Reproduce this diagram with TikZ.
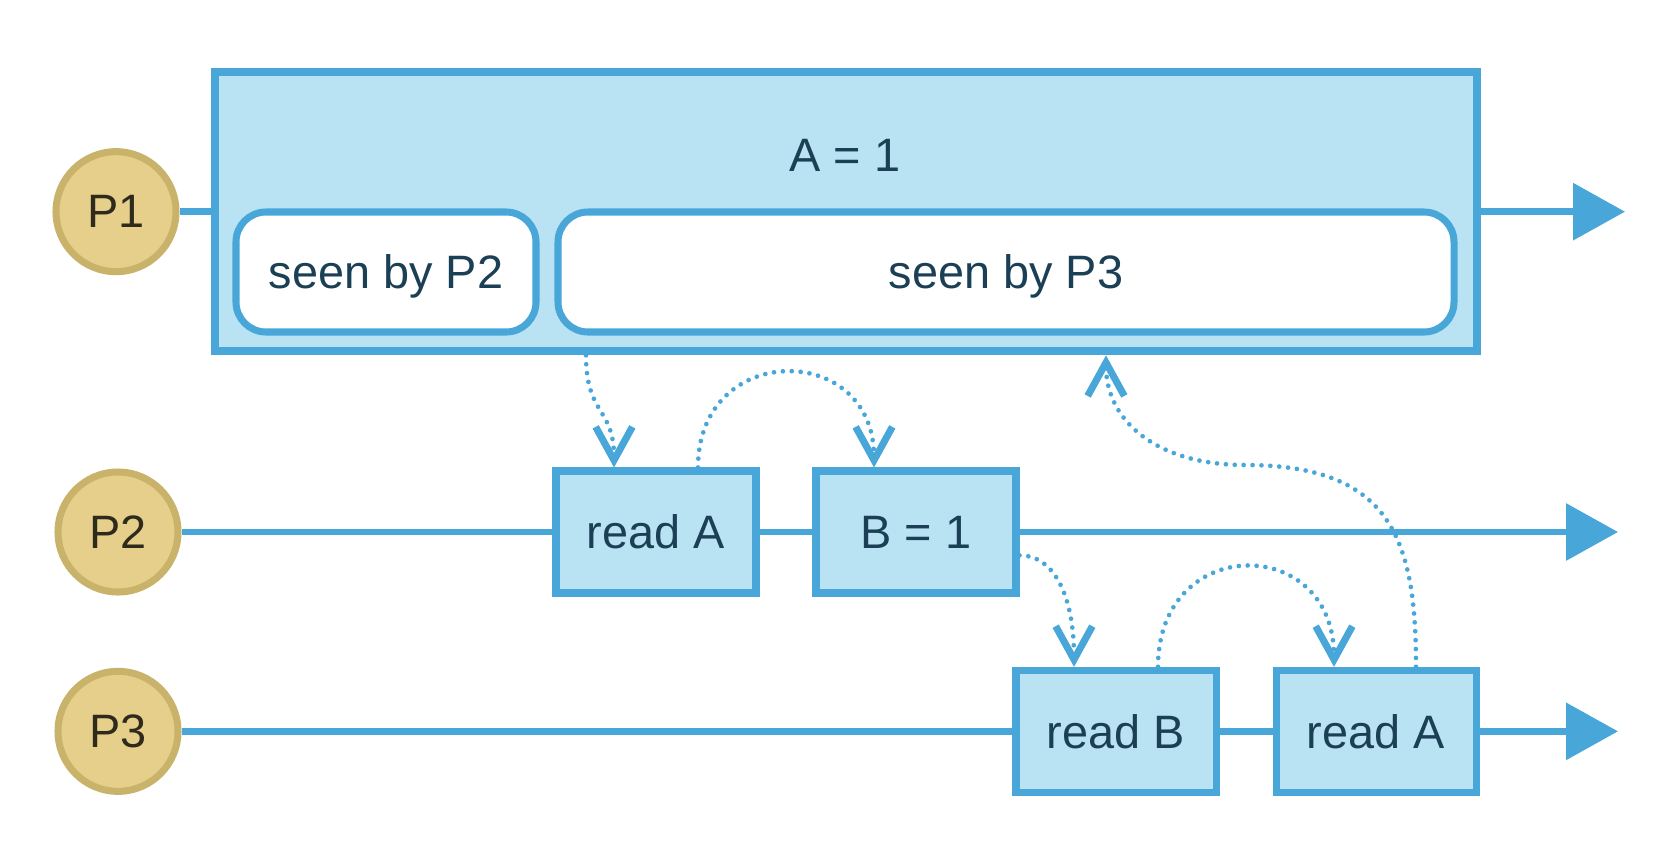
\documentclass[tikz,border=0pt]{standalone}
\usepackage{fontspec}
\setmainfont{Liberation Sans}
\usepackage{xcolor}
\usetikzlibrary{arrows.meta}

\definecolor{lineblue}{HTML}{48A6D8}
\definecolor{boxfill}{HTML}{B9E3F3}
\definecolor{procfill}{HTML}{E6CF8B}
\definecolor{procedge}{HTML}{C9B36A}
\definecolor{boxtext}{HTML}{1B3F55}
\definecolor{proctext}{HTML}{2E2A1C}

\tikzset{
  bigtext/.style={font=\fontsize{20}{24}\selectfont, text depth=0pt},
  proc/.style={circle, draw=procedge, fill=procfill, line width=3pt,
    minimum size=1.8cm, inner sep=0pt, text=proctext, bigtext},
  opbox/.style={rectangle, draw=lineblue, fill=boxfill, line width=3pt,
    minimum width=3cm, minimum height=1.83cm, inner sep=0pt, text=boxtext, bigtext},
  seenbox/.style={rectangle, rounded corners=0.45cm, draw=lineblue, fill=white,
    line width=3pt, minimum height=1.8cm, inner sep=0pt, text=boxtext, bigtext},
  timeline/.style={draw=lineblue, line width=2.8pt},
  timearrow/.style={timeline, -{Triangle[length=0.78cm,width=0.84cm]}},
  order/.style={draw=lineblue, line width=2pt, dash pattern=on 0pt off 3.8pt,
    line cap=round, -{Straight Barb[length=0.5cm,width=0.55cm,line width=3pt]}}
}

\begin{document}
\begin{tikzpicture}
    \useasboundingbox (0,0) rectangle (25.2,-12.9);

    % Processes
    \node[proc] (P1) at (1.74,-3.175) {P1};
    \node[proc] (P2) at (1.77,-7.98) {P2};
    \node[proc] (P3) at (1.77,-10.97) {P3};

    % Write of A on P1
    \node[rectangle, draw=lineblue, fill=boxfill, line width=3.4pt,
      minimum width=18.93cm, minimum height=4.19cm] (big) at (12.69,-3.175) {};
    \node[text=boxtext, bigtext] (aeq) at (12.675,-2.325) {A = 1};
    \node[seenbox, minimum width=4.5cm] (seenP2) at (5.79,-4.08) {seen by P2};
    \node[seenbox, minimum width=13.44cm] (seenP3) at (15.09,-4.08) {seen by P3};

    % Operations on P2 and P3
    \node[opbox] (readA2) at (9.84,-7.98) {read A};
    \node[opbox] (B1) at (13.74,-7.98) {B = 1};
    \node[opbox] (readB) at (16.74,-10.97) {read B};
    \node[opbox] (readA3) at (20.64,-10.97) {read A};

    % Time lines
    \coordinate (end1) at (24.375,-3.175);
    \coordinate (end2) at (24.27,-7.98);
    \coordinate (end3) at (24.27,-10.97);
    \draw[timeline] (P1) -- (big);
    \draw[timearrow] (big.east) -- (end1);
    \draw[timeline] (P2) -- (readA2);
    \draw[timeline] (readA2) -- (B1);
    \draw[timearrow] (B1.east) -- (end2);
    \draw[timeline] (P3) -- (readB);
    \draw[timeline] (readB) -- (readA3);
    \draw[timearrow] (readA3.east) -- (end3);

    % Ordering
    \draw[order] ([xshift=-3.9cm]big.south) .. controls +(0,-0.9) and +(0,0.9) .. ([xshift=-0.63cm]readA2.north);
    \draw[order] ([xshift=0.63cm]readA2.north) .. controls +(0,1.9) and +(0,1.9) .. ([xshift=-0.63cm]B1.north);
    \draw[order] ([yshift=-0.35cm]B1.east) .. controls +(0.55,0) and +(0,1.0) .. ([xshift=-0.63cm]readB.north);
    \draw[order] ([xshift=0.63cm]readB.north) .. controls +(0,2.0) and +(0,2.0) .. ([xshift=-0.63cm]readA3.north);
    \coordinate (bend) at (18.675,-6.975);
    \draw[order] ([xshift=0.6cm]readA3.north) .. controls +(0,1.9) and +(2.2,0) .. (bend)
      .. controls +(-1.3,0) and +(0,-1.0) .. ([xshift=3.9cm]big.south);
\end{tikzpicture}
\end{document}
